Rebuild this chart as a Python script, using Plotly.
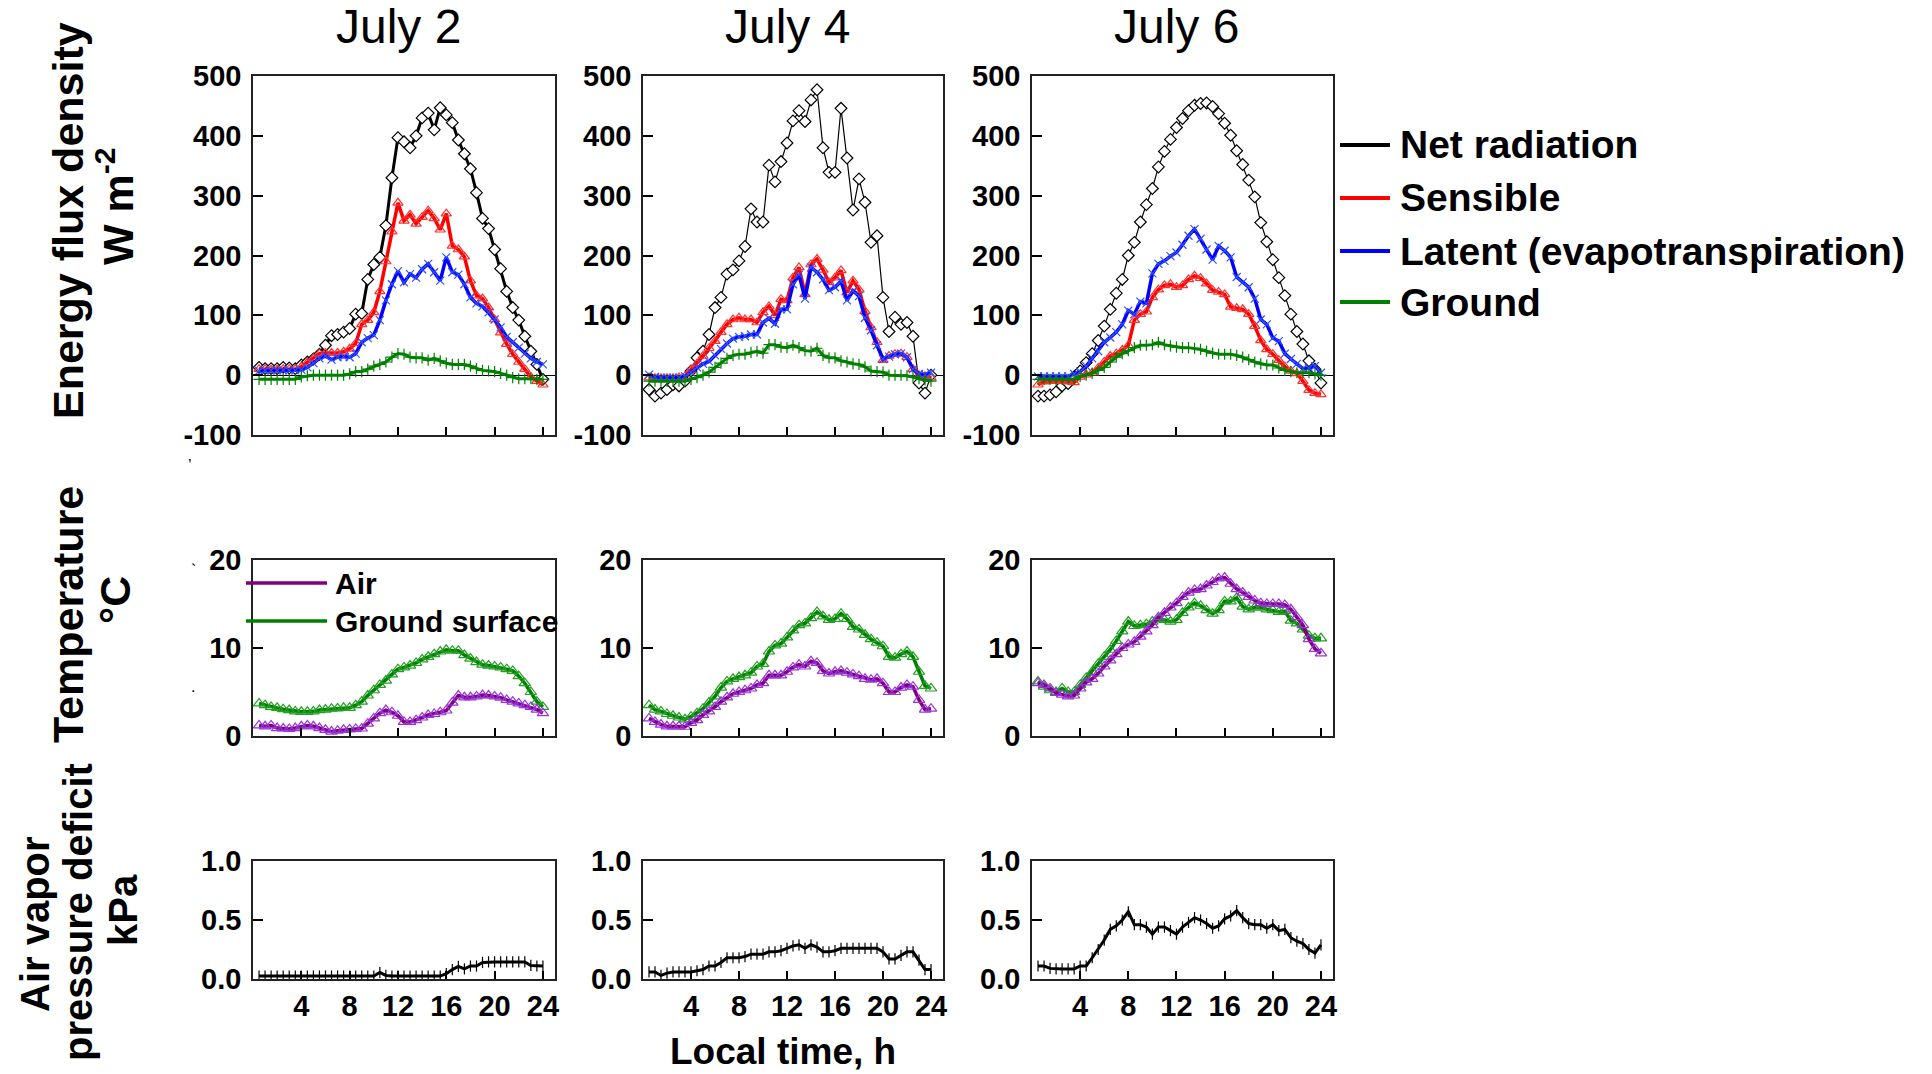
import plotly.graph_objects as go

W, H = 1932, 1074

# ---------------- data ----------------
hours = [0.5, 1.0, 1.5, 2.0, 2.5, 3.0, 3.5, 4.0, 4.5, 5.0, 5.5, 6.0,
         6.5, 7.0, 7.5, 8.0, 8.5, 9.0, 9.5, 10.0, 10.5, 11.0, 11.5, 12.0,
         12.5, 13.0, 13.5, 14.0, 14.5, 15.0, 15.5, 16.0, 16.5, 17.0, 17.5, 18.0,
         18.5, 19.0, 19.5, 20.0, 20.5, 21.0, 21.5, 22.0, 22.5, 23.0, 23.5, 24.0]

days = ["July 2", "July 4", "July 6"]
flux_names = ["Net radiation", "Sensible", "Latent (evapotranspiration)", "Ground"]
temp_names = ["Air", "Ground surface"]

x_tick_vals = [4, 8, 12, 16, 20, 24]
flux_ticks = [-100, 0, 100, 200, 300, 400, 500]
temp_ticks = [0, 10, 20]
vpd_ticks = [0.0, 0.5, 1.0]
vpd_tick_text = ["0.0", "0.5", "1.0"]

# Energy flux density, W m-2
jul2_net = [13, 11, 11, 11, 13, 12, 11, 17, 22, 27, 35, 50, 66, 68, 72, 78,
            102, 103, 160, 185, 197, 250, 330, 397, 390, 380, 400, 430, 438, 410, 447, 435,
            422, 393, 370, 345, 305, 262, 245, 210, 178, 140, 113, 92, 65, 40, 18, -7]
jul2_sens = [10, 10, 9, 9, 10, 10, 10, 14, 21, 28, 36, 37, 37, 37, 39, 44,
             53, 85, 92, 105, 140, 190, 240, 288, 258, 268, 253, 264, 275, 262, 243, 270,
             216, 210, 198, 158, 133, 128, 113, 93, 71, 52, 35, 22, 10, -3, -10, -16]
jul2_lat = [7, 8, 8, 8, 8, 8, 8, 9, 13, 20, 28, 32, 26, 30, 31, 30,
            36, 55, 62, 67, 92, 125, 152, 174, 155, 169, 163, 177, 186, 172, 158, 197,
            172, 168, 152, 130, 120, 115, 105, 93, 80, 64, 55, 46, 36, 28, 22, 18]
jul2_grd = [-7, -7, -7, -7, -7, -7, -7, -3, -1, 0, 0, 0, 0, 0, 0, 2,
            6, 6, 10, 15, 18, 22, 30, 36, 35, 30, 29, 29, 25, 28, 24, 20,
            18, 18, 18, 15, 11, 8, 7, 6, 3, 0, -4, -6, -6, -6, -7, -7]

jul4_net = [-24, -35, -30, -24, -16, -18, -10, 7, 29, 40, 68, 113, 130, 169, 176, 191,
            215, 278, 256, 256, 351, 323, 357, 388, 425, 442, 424, 460, 477, 380, 339, 339,
            446, 363, 276, 328, 289, 222, 233, 130, 73, 97, 85, 88, 65, -13, -30, 0]
jul4_sens = [-4, -5, -5, -5, -5, -4, -2, 9, 19, 32, 45, 57, 72, 85, 93, 96,
             93, 93, 88, 105, 115, 100, 127, 125, 163, 180, 135, 185, 194, 176, 155, 163,
             175, 138, 158, 143, 107, 80, 55, 25, 32, 35, 36, 30, 10, 0, -2, -4]
jul4_lat = [1, -3, -4, -4, -4, -4, -2, 5, 13, 19, 23, 33, 44, 53, 61, 64,
            65, 68, 68, 88, 95, 86, 110, 110, 152, 168, 128, 180, 172, 160, 142, 147,
            157, 125, 141, 132, 96, 75, 50, 27, 31, 35, 36, 30, 10, 2, 1, 4]
jul4_grd = [-10, -10, -10, -10, -10, -10, -10, -7, -4, 0, 5, 13, 20, 28, 33, 35,
            35, 38, 40, 37, 51, 51, 47, 46, 50, 46, 41, 40, 45, 33, 29, 29,
            24, 22, 19, 18, 14, 7, 6, 5, 0, 0, 0, -1, -3, -6, -8, -10]

jul6_net = [-35, -35, -33, -28, -18, -14, -3, 7, 21, 36, 58, 82, 110, 137, 160, 200,
            222, 256, 285, 312, 348, 374, 394, 414, 429, 442, 451, 454, 455, 449, 437, 421,
            401, 375, 352, 326, 298, 255, 223, 193, 163, 133, 102, 73, 52, 24, 10, -13]
jul6_sens = [-16, -11, -10, -10, -10, -11, -12, -3, 1, 4, 12, 22, 32, 36, 42, 50,
             92, 102, 106, 130, 143, 150, 152, 147, 150, 160, 166, 162, 153, 142, 139, 135,
             114, 112, 110, 102, 82, 58, 43, 35, 25, 14, 7, 3, -10, -25, -30, -32]
jul6_lat = [-2, -2, -2, -2, -2, -2, 2, 6, 15, 28, 40, 55, 63, 72, 85, 108,
            102, 123, 120, 170, 186, 191, 199, 205, 218, 233, 244, 228, 210, 193, 216, 208,
            197, 164, 155, 147, 128, 93, 85, 62, 57, 36, 27, 19, 11, 12, 15, 4]
jul6_grd = [-7, -7, -7, -7, -7, -7, -7, -2, 0, 3, 8, 13, 22, 30, 36, 41,
            46, 50, 50, 51, 55, 51, 49, 47, 46, 46, 45, 43, 40, 37, 35, 35,
            35, 33, 30, 26, 22, 19, 17, 17, 12, 8, 6, 4, 4, 4, 2, 0]

# Temperature, deg C
jul2_air = [1.2, 1.1, 1.2, 0.9, 0.85, 0.8, 0.9, 1.1, 1.2, 1.1, 0.9, 0.7, 0.5, 0.6, 0.7, 0.75,
            0.8, 0.85, 1.4, 2.0, 2.6, 2.95, 2.7, 2.3, 1.6, 1.6, 1.8, 2.1, 2.4, 2.5, 2.7, 2.9,
            3.8, 4.6, 4.4, 4.4, 4.5, 4.65, 4.6, 4.5, 4.35, 4.1, 3.9, 3.7, 3.5, 3.3, 3.0, 2.6]
jul2_gs = [3.7, 3.5, 3.3, 3.2, 3.05, 2.95, 2.8, 2.75, 2.75, 2.8, 2.95, 3.0, 3.1, 3.14, 3.2, 3.2,
           3.5, 3.9, 4.6, 5.2, 5.8, 6.3, 7.0, 7.6, 7.8, 8.0, 8.3, 8.7, 9.0, 9.3, 9.6, 9.8,
           9.7, 9.7, 9.2, 8.8, 8.4, 8.1, 8.0, 7.9, 7.8, 7.6, 7.4, 6.8, 6.0, 5.0, 3.9, 3.3]
jul4_air = [2.0, 1.6, 1.3, 1.1, 1.1, 1.1, 1.05, 1.5, 1.8, 2.4, 2.8, 3.3, 3.9, 4.4, 4.8, 5.0,
            5.2, 5.4, 5.8, 6.0, 6.9, 6.9, 6.9, 7.3, 7.8, 8.1, 7.9, 8.5, 8.3, 7.4, 7.1, 7.3,
            7.4, 7.2, 7.0, 6.8, 6.5, 6.4, 6.5, 6.0, 5.0, 5.0, 5.5, 5.8, 5.6, 4.1, 3.0, 3.1]
jul4_gs = [3.5, 3.0, 2.8, 2.5, 2.3, 2.1, 1.9, 2.2, 2.6, 3.1, 3.8, 4.5, 5.5, 6.2, 6.5, 6.7,
           6.9, 7.2, 7.9, 8.2, 9.6, 10.3, 10.5, 11.2, 12.0, 12.6, 12.8, 13.4, 14.1, 13.6, 13.2, 13.3,
           13.9, 13.3, 12.4, 12.1, 11.5, 11.0, 10.6, 10.2, 9.0, 8.9, 9.3, 9.6, 9.0, 7.3, 5.7, 5.4]
jul6_air = [6.0, 5.8, 5.4, 4.9, 4.7, 4.5, 4.6, 5.4, 6.1, 6.5, 7.1, 7.9, 8.6, 9.3, 10.0, 10.4,
            10.7, 11.3, 11.9, 12.6, 13.5, 14.0, 14.6, 15.1, 15.8, 16.3, 16.6, 16.7, 17.1, 17.5, 17.9, 18.0,
            17.3, 16.7, 16.3, 15.8, 15.4, 15.1, 15.0, 15.0, 15.0, 14.9, 14.4, 13.5, 12.6, 11.0, 9.9, 9.4]
jul6_gs = [6.2, 5.6, 5.2, 5.0, 5.4, 5.0, 5.0, 5.8, 6.6, 7.3, 8.2, 9.0, 9.8, 10.8, 11.9, 13.0,
           12.5, 12.6, 12.7, 13.0, 13.3, 13.2, 13.0, 13.2, 14.0, 14.6, 15.1, 14.8, 14.3, 13.9, 14.3, 15.3,
           15.3, 15.7, 14.7, 14.4, 14.6, 14.6, 14.4, 14.3, 14.1, 14.2, 13.1, 12.8, 12.1, 11.4, 11.1, 11.1]

# Air vapor pressure deficit, kPa
jul2_vpd = [0.025, 0.025, 0.025, 0.025, 0.025, 0.025, 0.025, 0.025, 0.025, 0.025, 0.025, 0.025,
            0.025, 0.025, 0.025, 0.025, 0.025, 0.025, 0.025, 0.025, 0.055, 0.03, 0.025, 0.025,
            0.025, 0.025, 0.025, 0.025, 0.025, 0.025, 0.025, 0.045, 0.08, 0.107, 0.085, 0.11,
            0.11, 0.14, 0.145, 0.145, 0.145, 0.145, 0.145, 0.145, 0.145, 0.115, 0.11, 0.11]
jul4_vpd = [0.06, 0.06, 0.03, 0.05, 0.06, 0.06, 0.06, 0.06, 0.07, 0.08, 0.11, 0.11,
            0.14, 0.18, 0.18, 0.18, 0.19, 0.21, 0.21, 0.21, 0.23, 0.23, 0.24, 0.26,
            0.28, 0.29, 0.26, 0.29, 0.27, 0.23, 0.23, 0.24, 0.26, 0.26, 0.26, 0.26,
            0.26, 0.26, 0.26, 0.23, 0.17, 0.17, 0.2, 0.23, 0.23, 0.16, 0.08, 0.08]
jul6_vpd = [0.11, 0.11, 0.09, 0.085, 0.085, 0.085, 0.085, 0.11, 0.11, 0.18, 0.25, 0.33,
            0.42, 0.45, 0.50, 0.57, 0.46, 0.46, 0.44, 0.38, 0.44, 0.44, 0.41, 0.38,
            0.44, 0.48, 0.52, 0.50, 0.47, 0.43, 0.45, 0.51, 0.535, 0.58, 0.52, 0.47,
            0.46, 0.46, 0.43, 0.46, 0.41, 0.42, 0.35, 0.32, 0.30, 0.25, 0.22, 0.29]

flux = [(jul2_net, jul2_sens, jul2_lat, jul2_grd),
        (jul4_net, jul4_sens, jul4_lat, jul4_grd),
        (jul6_net, jul6_sens, jul6_lat, jul6_grd)]
temps = [(jul2_air, jul2_gs), (jul4_air, jul4_gs), (jul6_air, jul6_gs)]
vpds = [jul2_vpd, jul4_vpd, jul6_vpd]

# ---------------- styling ----------------
FONT = "Arial, Liberation Sans, sans-serif"
C_NET, C_SENS, C_LAT, C_GRD = "black", "#ff0000", "#0000ff", "#008000"
C_AIR, C_GS = "#800080", "#008000"

col_px = [(253, 555), (643, 943), (1032, 1333)]
row_px = [(76, 435), (560, 736), (861, 979)]


def px(xp):
    return xp / W


def py(yp):
    return 1 - yp / H


def axid(i):
    return ("x" if i == 1 else f"x{i}", "y" if i == 1 else f"y{i}")


fig = go.Figure()

for c in range(3):
    # energy flux row
    xa, ya = axid(c + 1)
    net, sens, lat, grd = flux[c]
    fig.add_trace(go.Scatter(x=hours, y=net, xaxis=xa, yaxis=ya, mode="lines+markers",
                             name=flux_names[0], showlegend=False,
                             line=dict(color=C_NET, width=3 if c == 0 else 1.2),
                             marker=dict(symbol="diamond", size=9, color="white",
                                         line=dict(color="black", width=1.2))))
    fig.add_trace(go.Scatter(x=hours, y=sens, xaxis=xa, yaxis=ya, mode="lines+markers",
                             name=flux_names[1], showlegend=False,
                             line=dict(color=C_SENS, width=3.5),
                             marker=dict(symbol="triangle-up-open", size=9, color="#ff3030",
                                         line=dict(width=1.2))))
    fig.add_trace(go.Scatter(x=hours, y=lat, xaxis=xa, yaxis=ya, mode="lines+markers",
                             name=flux_names[2], showlegend=False,
                             line=dict(color=C_LAT, width=3.5),
                             marker=dict(symbol="x-thin-open", size=8, color="#3050ff",
                                         line=dict(width=1.2, color="#3050ff"))))
    fig.add_trace(go.Scatter(x=hours, y=grd, xaxis=xa, yaxis=ya, mode="lines+markers",
                             name=flux_names[3], showlegend=False,
                             line=dict(color=C_GRD, width=3),
                             marker=dict(symbol="cross-thin-open", size=8, color=C_GRD,
                                         line=dict(width=1.2, color=C_GRD))))
    # temperature row
    xa, ya = axid(c + 4)
    air, gs = temps[c]
    fig.add_trace(go.Scatter(x=hours, y=gs, xaxis=xa, yaxis=ya, mode="lines+markers",
                             name=temp_names[1], showlegend=False,
                             line=dict(color=C_GS, width=3.5),
                             marker=dict(symbol="triangle-up-open", size=10, color="#22a022",
                                         line=dict(width=1.2))))
    fig.add_trace(go.Scatter(x=hours, y=air, xaxis=xa, yaxis=ya, mode="lines+markers",
                             name=temp_names[0], showlegend=False,
                             line=dict(color=C_AIR, width=3.5),
                             marker=dict(symbol="triangle-up-open", size=10, color="#9933dd",
                                         line=dict(width=1.2))))
    # vpd row
    xa, ya = axid(c + 7)
    fig.add_trace(go.Scatter(x=hours, y=vpds[c], xaxis=xa, yaxis=ya, mode="lines+markers",
                             name="VPD", showlegend=False,
                             line=dict(color="black", width=3),
                             marker=dict(symbol="line-ns-open", size=8, color="black",
                                         line=dict(width=1.2, color="black"))))

tickfont = dict(family=FONT, size=29, color="black", weight="bold")
layout = dict(width=W, height=H, margin=dict(l=0, r=0, t=0, b=0, pad=0, autoexpand=False),
              paper_bgcolor="white", plot_bgcolor="white", showlegend=False,
              template="none")

for r in range(3):
    for c in range(3):
        i = r * 3 + c + 1
        xa, ya = axid(i)
        xk = "xaxis" if i == 1 else f"xaxis{i}"
        yk = "yaxis" if i == 1 else f"yaxis{i}"
        layout[xk] = dict(domain=[px(col_px[c][0]), px(col_px[c][1])], anchor=ya,
                          range=[0, 25], tickvals=x_tick_vals, automargin=False,
                          showticklabels=(r == 2), tickfont=tickfont,
                          ticks="inside", ticklen=8, tickwidth=1.5, tickcolor="black",
                          showline=True, linecolor="#222", linewidth=1.5, mirror=True,
                          showgrid=False, zeroline=False, ticklabelstandoff=0)
        if r == 0:
            yr, tv, tt = [-100, 500], flux_ticks, [str(v) for v in flux_ticks]
        elif r == 1:
            yr, tv, tt = [0, 20], temp_ticks, [str(v) for v in temp_ticks]
        else:
            yr, tv, tt = [0, 1], vpd_ticks, vpd_tick_text
        layout[yk] = dict(domain=[py(row_px[r][1]), py(row_px[r][0])], anchor=xa,
                          range=yr, tickvals=tv, ticktext=tt, tickfont=tickfont,
                          automargin=False,
                          ticks="inside", ticklen=10, tickwidth=1.5, tickcolor="black",
                          showline=True, linecolor="#222", linewidth=1.5, mirror=True,
                          showgrid=False, zeroline=(r == 0), zerolinecolor="black",
                          zerolinewidth=1, ticklabelstandoff=4)

annotations = []
shapes = []

# column titles
for c, d in enumerate(days):
    annotations.append(dict(x=px((col_px[c][0] + col_px[c][1]) / 2 - 6), y=py(26),
                            xref="paper", yref="paper", text=d, showarrow=False,
                            xanchor="center", yanchor="middle",
                            font=dict(family=FONT, size=48, color="black")))

# y axis titles
bold43 = dict(family=FONT, size=43, color="black", weight="bold")
bold40 = dict(family=FONT, size=40, color="black", weight="bold")
for txt, xx, yy, f in [("Energy flux density", 68, 221, bold43), ("W m<sup>-2</sup>", 115, 206, bold43),
                       ("Temperature", 68, 615, bold43), ("°C", 115, 600, bold43),
                       ("Air vapor", 35, 924, bold40), ("pressure deficit", 78, 912, bold40),
                       ("kPa", 123, 910, bold40)]:
    annotations.append(dict(x=px(xx), y=py(yy), xref="paper", yref="paper", text=txt,
                            showarrow=False, textangle=-90, xanchor="center",
                            yanchor="middle", font=f))

# x axis title
annotations.append(dict(x=px(783), y=py(1051), xref="paper", yref="paper",
                        text="Local time, h", showarrow=False, xanchor="center",
                        yanchor="middle", font=dict(family=FONT, size=37, color="black",
                                                    weight="bold")))

# main legend (flux)
for name, col, yy in zip(flux_names, [C_NET, C_SENS, C_LAT, C_GRD], [145, 198, 251, 302]):
    shapes.append(dict(type="line", xref="paper", yref="paper", x0=px(1340), x1=px(1390),
                       y0=py(yy), y1=py(yy), line=dict(color=col, width=4)))
    annotations.append(dict(x=px(1398), y=py(yy), xref="paper", yref="paper", text=name,
                            showarrow=False, xanchor="left", yanchor="middle",
                            font=dict(family=FONT, size=39, color="black", weight="bold")))

# temperature legend (inside July 2 panel)
for name, col, yy in zip(temp_names, [C_AIR, C_GS], [583, 621]):
    shapes.append(dict(type="line", xref="paper", yref="paper", x0=px(246), x1=px(327),
                       y0=py(yy), y1=py(yy), line=dict(color=col, width=3.5)))
    annotations.append(dict(x=px(333), y=py(yy), xref="paper", yref="paper", text=name,
                            showarrow=False, xanchor="left", yanchor="middle",
                            font=dict(family=FONT, size=30, color="black", weight="bold")))

# small stray marks in the original figure
for txt, xx, yy in [("’", 186, 466), ("`", 189, 570), (".", 189, 686)]:
    annotations.append(dict(x=px(xx), y=py(yy), xref="paper", yref="paper", text=txt,
                            showarrow=False, font=dict(family=FONT, size=16, color="black")))

layout["annotations"] = annotations
layout["shapes"] = shapes
fig.update_layout(**layout)

fig.write_html("out.html")
